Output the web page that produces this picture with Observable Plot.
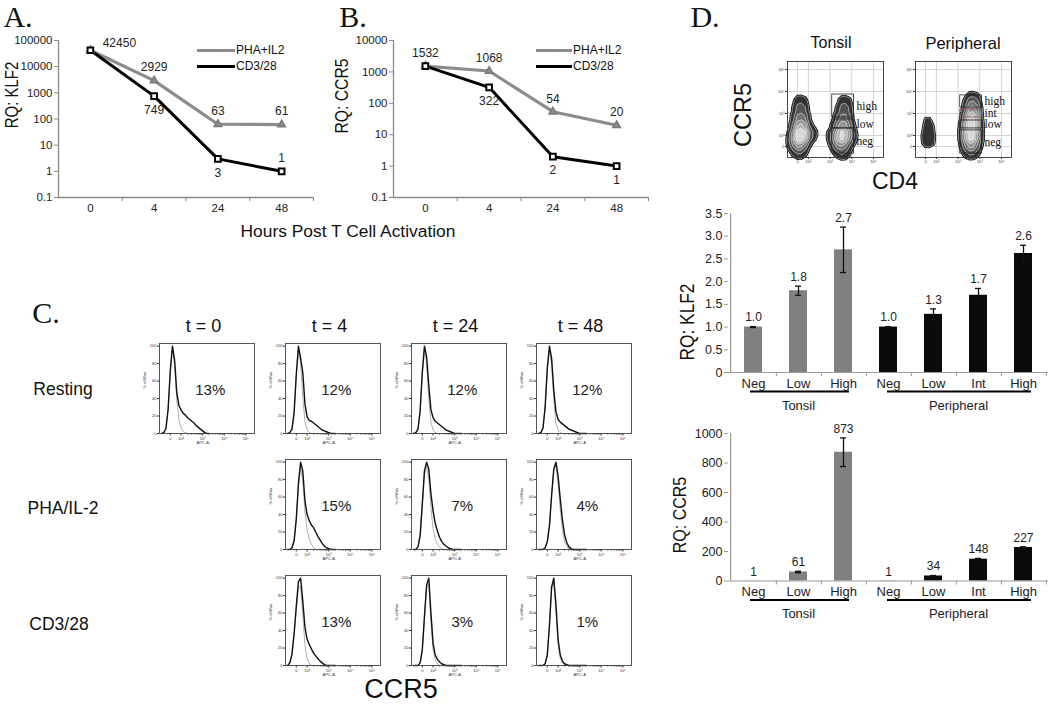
<!DOCTYPE html>
<html><head><meta charset="utf-8">
<script src="https://cdn.jsdelivr.net/npm/d3@7"></script>
<script src="https://cdn.jsdelivr.net/npm/@observablehq/plot@0.6"></script>
<style>
html,body{margin:0;padding:0;background:#fff;}
#fig{position:relative;width:1050px;height:706px;overflow:hidden;font-family:"Liberation Sans",Arial,sans-serif;color:#111;}
.pl{position:absolute;}
.pl svg{overflow:visible;background:transparent;display:block;}
.lbl{position:absolute;white-space:nowrap;line-height:1;}
.lg{position:absolute;}
</style></head><body><div id="fig"></div>
<script>
// ---------------- DATA ----------------
// Panels A & B
const hours = ["0", "4", "24", "48"];
const klf2Pha = [42450, 2929, 63, 61];
const klf2Cd3 = [42450, 749, 3, 1];
const ccr5Pha = [1532, 1068, 54, 20];
const ccr5Cd3 = [1532, 322, 2, 1];
const klf2PhaLabelAt = ["right", "above", "above", "above"];
const klf2Cd3LabelAt = ["none", "below", "below", "above"];
const ccr5PhaLabelAt = ["above", "above", "above", "above"];
const ccr5Cd3LabelAt = ["none", "below", "below", "below"];
const klf2Ticks = [0.1, 1, 10, 100, 1000, 10000, 100000];
const ccr5Ticks = [0.1, 1, 10, 100, 1000, 10000];

// Panel C (histograms, % of max per logicle bin)
const timepoints = ["t = 0", "t = 4", "t = 24", "t = 48"];
const conditions = ["Resting", "PHA/IL-2", "CD3/28"];
const histBins = [-0.4,-0.3,-0.2,-0.1,0,0.1,0.2,0.3,0.4,0.5,0.6,0.7,0.8,0.9,1.0,1.1,1.2,1.3,1.4,1.5,1.6,1.7,1.8];
const restT0Sample   = [0,1,6,28,72,100,84,47,32,27,23,21,18,16,14,12,9,7,5,3,1,0,0];
const restT0Control  = [0,1,6,27,70,97,78,38,16,6,2,1,0,0,0,0,0,0,0,0,0,0,0];
const restT4Sample   = [0,1,5,24,68,100,86,70,34,19,15,14,12,10,8,6,4,3,2,1,0,0,0];
const restT4Control  = [0,1,5,23,66,96,80,42,14,4,1,0,0,0,0,0,0,0,0,0,0,0,0];
const restT24Sample  = [0,1,5,26,70,100,88,55,27,18,14,12,10,8,6,4,3,2,1,0,0,0,0];
const restT24Control = [0,1,5,25,67,96,80,40,13,4,1,0,0,0,0,0,0,0,0,0,0,0,0];
const restT48Sample  = [0,1,6,30,75,100,86,50,25,16,13,11,9,7,5,4,3,2,1,0,0,0,0];
const restT48Control = [0,1,6,29,72,95,78,38,12,4,1,0,0,0,0,0,0,0,0,0,0,0,0];
const phaT4Sample    = [0,0,2,10,35,76,100,90,56,40,33,28,25,20,15,11,7,4,2,1,0,0,0];
const phaT4Control   = [0,0,2,10,34,72,94,78,44,22,12,6,2,0,0,0,0,0,0,0,0,0,0];
const phaT24Sample   = [0,0,3,16,52,90,100,92,64,44,30,21,14,9,6,4,2,1,0,0,0,0,0];
const phaT24Control  = [0,0,3,15,50,86,95,80,48,24,12,6,3,1,0,0,0,0,0,0,0,0,0];
const phaT48Sample   = [0,0,0,2,9,27,62,92,100,84,58,34,17,8,3,1,0,0,0,0,0,0,0];
const phaT48Control  = [0,0,0,2,9,27,62,90,96,76,46,22,9,3,1,0,0,0,0,0,0,0,0];
const cd3T4Sample    = [0,3,13,37,68,96,100,74,44,30,24,19,14,11,8,5,3,1,0,0,0,0,0];
const cd3T4Control   = [0,3,13,35,64,90,90,58,24,8,2,0,0,0,0,0,0,0,0,0,0,0,0];
const cd3T24Sample   = [0,0,0,3,18,56,92,100,60,25,12,7,4,2,1,0,0,0,0,0,0,0,0];
const cd3T24Control  = [0,0,0,3,18,55,90,93,50,18,6,2,0,0,0,0,0,0,0,0,0,0,0];
const cd3T48Sample   = [0,0,0,2,12,46,90,100,70,30,12,5,2,1,0,0,0,0,0,0,0,0,0];
const cd3T48Control  = [0,0,0,2,12,46,88,96,62,24,8,3,1,0,0,0,0,0,0,0,0,0,0];
const restPercents = ["13%", "12%", "12%", "12%"];
const phaPercents  = ["15%", "7%", "4%"];
const cd3Percents  = ["13%", "3%", "1%"];

// logicle axis ticks (display units)
const logicleTicks = [0, 0.5, 1.5, 2.5, 3.5];
const logicleLabels = ["0", "10\u00B2", "10\u00B3", "10\u2074", "10\u2075"];

// Panel D contour populations: [x, y, weight] in logicle display units
const tonsilNeg = [[0.08,-0.3,2],[0.08,0.1,4],[0.1,0.5,6],[0.12,0.9,4],[0.15,1.3,3],[0.15,1.7,2],[0.12,2.0,1.2],[0.1,2.25,0.6],[0.5,0.55,1.6],[0.8,0.6,1.1],[1.1,0.65,0.5],[-0.22,0.3,1.2]];
const tonsilPos = [[2.1,-0.3,2.5],[1.9,0.1,3],[2.1,0.45,6],[1.75,0.5,1.8],[2.45,0.45,1.8],[2.1,0.9,4],[2.1,1.3,3],[2.15,1.7,2],[2.15,2.0,1.2],[2.15,2.25,0.5]];
const periNeg = [[0.1,0.0,0.8],[0.1,0.4,1.4],[0.1,0.8,1.1],[0.1,1.2,0.8],[0.1,1.55,0.4]];
const periPos = [[2.1,-0.3,2],[2.1,0.1,4],[2.1,0.5,6],[2.1,0.9,5],[2.12,1.3,4.5],[2.15,1.7,3.5],[2.15,2.05,1.8],[2.15,2.3,0.7]];
const tonsilGateNames = ["high", "low", "neg"];
const tonsilGateY1 = [1.32, 0.82, -0.32];
const tonsilGateY2 = [2.36, 1.23, 0.82];
const periGateNames = ["high", "int", "low", "neg"];
const periGateY1 = [1.77, 1.32, 0.82, -0.32];
const periGateY2 = [2.32, 1.68, 1.18, 0.73];
const gateX1 = 1.6, gateX2 = 2.6;

// Panel D bar charts
const barGroups = ["Tonsil","Tonsil","Tonsil","Peripheral","Peripheral","Peripheral","Peripheral"];
const barSubsets = ["Neg","Low","High","Neg","Low","Int","High"];
const klf2Values = [1.0, 1.8, 2.7, 1.0, 1.28, 1.7, 2.62];
const klf2Errors = [0.01, 0.1, 0.5, 0.01, 0.12, 0.15, 0.18];
const klf2Labels = ["1.0", "1.8", "2.7", "1.0", "1.3", "1.7", "2.6"];
const ccr5Values = [1, 61, 873, 1, 34, 148, 227];
const ccr5Errors = [0, 5, 97, 0, 3, 5, 5];
const ccr5Labels = ["1", "61", "873", "1", "34", "148", "227"];

// ---------------- HELPERS ----------------
const fig = document.getElementById("fig");
const SANS = '"Liberation Sans", Arial, sans-serif';
const SERIF = '"Liberation Serif", "Times New Roman", serif';
function place(svg, left, top) {
  const d = document.createElement("div");
  d.className = "pl"; d.style.left = left + "px"; d.style.top = top + "px";
  d.appendChild(svg); fig.appendChild(d);
}
function label(text, cx, cy, size, opts = {}) {
  const d = document.createElement("div");
  d.className = "lbl"; d.textContent = text;
  d.style.fontSize = size + "px";
  d.style.fontFamily = opts.serif ? SERIF : SANS;
  d.style.left = cx + "px"; d.style.top = cy + "px";
  let t = "translate(-50%,-50%)";
  if (opts.rotate) t += ` rotate(${opts.rotate}deg)`;
  if (opts.sy) t += ` scaleY(${opts.sy})`;
  d.style.transform = t;
  fig.appendChild(d);
}
function legendItem(x1, x2, y, color, text) {
  const l = document.createElement("div");
  l.className = "lg"; l.style.left = x1 + "px"; l.style.top = (y - 1.5) + "px";
  l.style.width = (x2 - x1) + "px"; l.style.height = "3px"; l.style.background = color;
  fig.appendChild(l);
  const t = document.createElement("div");
  t.className = "lbl"; t.textContent = text; t.style.fontSize = "12px";
  t.style.left = (x2 + 1) + "px"; t.style.top = (y - 6) + "px";
  fig.appendChild(t);
}
const baseStyle = {fontFamily: SANS, fontSize: "11.5px", color: "#222", background: "transparent", overflow: "visible"};

// ---------------- PANELS A & B ----------------
function lineChart(pha, cd3, phaAt, cd3At, yDomain, yTicks) {
  const mk = (vals, at, s) => vals.map((v, i) => ({s, i, v, at: at[i]}));
  const p = mk(pha, phaAt, "PHA+IL2"), c = mk(cd3, cd3At, "CD3/28");
  const all = p.concat(c);
  const X = d => d.i + 0.5;
  return Plot.plot({
    width: 330, height: 222, marginLeft: 58, marginRight: 17, marginTop: 40, marginBottom: 25,
    style: baseStyle,
    x: {type: "linear", domain: [0, hours.length]},
    y: {type: "log", domain: yDomain},
    marks: [
      Plot.axisY({ticks: yTicks, tickFormat: d => String(d), tickSize: 4, tickPadding: 2, stroke: "#8a8a8a", label: null, fontSize: 11.5}),
      Plot.axisX({ticks: d3.range(1, hours.length + 1), tickFormat: () => "", tickSize: 4, stroke: "#8a8a8a", label: null}),
      Plot.axisX({ticks: hours.map((h, i) => i + 0.5), tickFormat: t => hours[Math.floor(t)], tickSize: 0, tickPadding: 6, label: null, fontSize: 11.5}),
      Plot.ruleX([0], {stroke: "#8a8a8a", strokeWidth: 1.3}),
      Plot.ruleY([yDomain[0]], {stroke: "#8a8a8a", strokeWidth: 1.3}),
      Plot.line(p, {x: X, y: "v", stroke: "#8c8c8c", strokeWidth: 3.2}),
      Plot.line(c, {x: X, y: "v", stroke: "#000", strokeWidth: 3}),
      Plot.dot(p, {x: X, y: "v", symbol: "triangle", r: 2.8, fill: "#8c8c8c", stroke: "#7a7a7a"}),
      Plot.dot(c, {x: X, y: "v", symbol: "square", r: 3.2, fill: "#fff", stroke: "#000", strokeWidth: 2}),
      Plot.text(all.filter(d => d.at === "above"), {x: X, y: "v", text: d => String(d.v), dy: -13, fontSize: 12, fill: "#222"}),
      Plot.text(all.filter(d => d.at === "below"), {x: X, y: "v", text: d => String(d.v), dy: 14, fontSize: 12, fill: "#222"}),
      Plot.text(all.filter(d => d.at === "right"), {x: X, y: "v", text: d => String(d.v), dx: 29, dy: -7, fontSize: 12, fill: "#222"})
    ]
  });
}
place(lineChart(klf2Pha, klf2Cd3, klf2PhaLabelAt, klf2Cd3LabelAt, [0.1, 100000], klf2Ticks), 0, 0);
place(lineChart(ccr5Pha, ccr5Cd3, ccr5PhaLabelAt, ccr5Cd3LabelAt, [0.1, 10000], ccr5Ticks), 335, 0);
legendItem(197, 235, 50, "#8c8c8c", "PHA+IL2");
legendItem(197, 235, 66, "#000", "CD3/28");
legendItem(536, 572, 50, "#8c8c8c", "PHA+IL2");
legendItem(536, 572, 66, "#000", "CD3/28");
label("A.", 18, 17, 30, {serif: true});
label("B.", 353, 17, 30, {serif: true});
label("RQ: KLF2", 11, 95, 15, {rotate: -90, sy: 1.25});
label("RQ: CCR5", 342, 96, 15.7, {rotate: -90, sy: 1.15});
label("Hours Post T Cell Activation", 348, 232, 17.4);

// ---------------- PANEL C ----------------
const minorTicks = [];
[0.5, 1.5, 2.5].forEach(s => { for (let m = 2; m < 10; m++) minorTicks.push(s + Math.log10(m)); });
const logicleFmt = new Map(logicleTicks.map((t, i) => [t, logicleLabels[i]]));
function histPlot(sample, control, pct) {
  const s = histBins.map((x, i) => ({x, y: sample[i]}));
  const c = histBins.map((x, i) => ({x, y: control[i]}));
  return Plot.plot({
    width: 121, height: 112, marginLeft: 22, marginRight: 4, marginTop: 4, marginBottom: 18,
    style: {...baseStyle, fontSize: "4px"},
    x: {domain: [-0.5, 3.9]},
    y: {domain: [0, 103]},
    marks: [
      Plot.axisY({ticks: [0, 20, 40, 60, 80, 100], tickSize: 2, tickPadding: 1, fontSize: 4, label: null, stroke: "#333", fill: "#333"}),
      Plot.axisX({ticks: logicleTicks, tickFormat: d => logicleFmt.get(d), tickSize: 2.5, tickPadding: 1, fontSize: 4, label: null, stroke: "#333", fill: "#333"}),
      Plot.axisX({ticks: minorTicks, tickFormat: () => "", tickSize: 1.5, label: null, stroke: "#333"}),
      Plot.text(["% of Max"], {frameAnchor: "left", dx: -15, rotate: -90, fontSize: 4, fill: "#333"}),
      Plot.text(["APC-A"], {x: 1.5, frameAnchor: "bottom", dy: 10, fontSize: 4, fill: "#333"}),
      Plot.line(c, {x: "x", y: "y", stroke: "#9a9a9a", strokeWidth: 0.8}),
      Plot.line(s, {x: "x", y: "y", stroke: "#111", strokeWidth: 1.4}),
      Plot.frame({stroke: "#444", strokeWidth: 0.9}),
      Plot.text([pct], {x: 1.85, y: 50, text: d => d, fontSize: 15, fill: "#222"})
    ]
  });
}
const colLeft = [159, 285, 411, 536];
const rowTop = [343, 459, 575];
const restSamples = [restT0Sample, restT4Sample, restT24Sample, restT48Sample];
const restControls = [restT0Control, restT4Control, restT24Control, restT48Control];
const phaSamples = [phaT4Sample, phaT24Sample, phaT48Sample];
const phaControls = [phaT4Control, phaT24Control, phaT48Control];
const cd3Samples = [cd3T4Sample, cd3T24Sample, cd3T48Sample];
const cd3Controls = [cd3T4Control, cd3T24Control, cd3T48Control];
restSamples.forEach((s, j) => place(histPlot(s, restControls[j], restPercents[j]), colLeft[j] - 22, rowTop[0] - 4));
phaSamples.forEach((s, j) => place(histPlot(s, phaControls[j], phaPercents[j]), colLeft[j + 1] - 22, rowTop[1] - 4));
cd3Samples.forEach((s, j) => place(histPlot(s, cd3Controls[j], cd3Percents[j]), colLeft[j + 1] - 22, rowTop[2] - 4));
timepoints.forEach((t, j) => label(t, colLeft[j] + 44.5, 326, 18));
label(conditions[0], 63, 390, 17.5);
label(conditions[1], 63, 509, 17.5);
label(conditions[2], 59, 625, 17.5);
label("C.", 46, 313, 30, {serif: true});
label("CCR5", 401, 689, 27);

// ---------------- PANEL D contour plots ----------------
function contourPlot(pops, names, y1s, y2s) {
  const pts = pops.flat().map(([x, y, w]) => ({x, y, w}));
  const gates = names.map((n, i) => ({name: n, x1: gateX1, x2: gateX2, y1: y1s[i], y2: y2s[i]}));
  const dens = {x: "x", y: "y", weight: "w", bandwidth: 4.5, thresholds: 7};
  return Plot.plot({
    width: 120, height: 116, marginLeft: 20, marginRight: 4, marginTop: 4, marginBottom: 16,
    style: {...baseStyle, fontSize: "4px"},
    x: {domain: [-0.46, 3.96]},
    y: {domain: [-0.5, 3.86]},
    color: {type: "linear", range: ["#111111", "#d8d8d8"]},
    marks: [
      Plot.gridX(logicleTicks, {stroke: "#d4d4d4", strokeOpacity: 1}),
      Plot.gridY(logicleTicks, {stroke: "#d4d4d4", strokeOpacity: 1}),
      Plot.density(pts, {...dens, fill: "#000", stroke: "#000", strokeWidth: 2.4}),
      Plot.density(pts, {...dens, fill: "density", stroke: "#fff", strokeWidth: 0.5}),
      Plot.rect(gates, {x1: "x1", x2: "x2", y1: "y1", y2: "y2", fill: "none", stroke: d => d.name === "int" ? "#8a4b4b" : "#222", strokeWidth: 0.8}),
      Plot.text(gates, {x: "x2", y: d => (d.y1 + d.y2) / 2, text: "name", dx: 2.5, textAnchor: "start", fontFamily: SERIF, fontSize: 11.5, fill: "#111"}),
      Plot.frame({stroke: "#333", strokeWidth: 0.9}),
      Plot.axisY({ticks: logicleTicks, tickFormat: d => logicleFmt.get(d), tickSize: 2, tickPadding: 1, fontSize: 4, label: null, stroke: "#333", fill: "#333"}),
      Plot.axisX({ticks: logicleTicks, tickFormat: d => logicleFmt.get(d), tickSize: 2, tickPadding: 1, fontSize: 4, label: null, stroke: "#333", fill: "#333"})
    ]
  });
}
place(contourPlot([tonsilNeg, tonsilPos], tonsilGateNames, tonsilGateY1, tonsilGateY2), 767, 57);
place(contourPlot([periNeg, periPos], periGateNames, periGateY1, periGateY2), 895, 57);
label("D.", 705, 17, 30, {serif: true});
label("Tonsil", 831, 43, 16);
label("Peripheral", 963, 43, 16.5);
label("CCR5", 744, 115, 23.5, {rotate: -90});
label("CD4", 895, 181, 23);

// ---------------- PANEL D bar charts ----------------
function barChart(values, errors, labels, yDomain, yTicks, fmt, frameH) {
  const rows = barSubsets.map((s, i) => ({key: barGroups[i] + "-" + s, sub: s, group: barGroups[i], v: values[i], e: errors[i], lab: labels[i]}));
  const keys = rows.map(d => d.key);
  const W = 320, half = W / keys.length / 2;
  return Plot.plot({
    width: 40 + W + 2, height: 20 + frameH + 45, marginLeft: 40, marginRight: 2, marginTop: 20, marginBottom: 45,
    style: {...baseStyle, fontSize: "12.5px"},
    x: {type: "band", domain: keys, paddingInner: 0.6, paddingOuter: 0.3},
    y: {domain: yDomain},
    marks: [
      Plot.barY(rows, {x: "key", y: "v", fill: d => d.group === "Tonsil" ? "#808080" : "#0a0a0a"}),
      Plot.ruleX(rows, {x: "key", y1: d => d.v - d.e, y2: d => d.v + d.e, stroke: "#111", strokeWidth: 1.3}),
      Plot.tickY(rows.filter(d => d.e > 0), {x: "key", y: d => d.v + d.e, insetLeft: 6, insetRight: 6, stroke: "#111", strokeWidth: 1.3}),
      Plot.tickY(rows.filter(d => d.e > 0), {x: "key", y: d => d.v - d.e, insetLeft: 6, insetRight: 6, stroke: "#111", strokeWidth: 1.3}),
      Plot.text(rows, {x: "key", y: d => d.v + d.e, text: "lab", dy: -9, fontSize: 12, fill: "#222"}),
      Plot.ruleY([0], {stroke: "#999", strokeWidth: 1.2}),
      Plot.ruleX([keys[0]], {x: d => d, dx: -half, stroke: "#999", strokeWidth: 1.2}),
      Plot.axisY({ticks: yTicks, tickFormat: fmt, tickSize: 4, tickPadding: 2, label: null, stroke: "#999", fontSize: 12.5}),
      Plot.axisX({ticks: keys, tickFormat: () => "", tickSize: 4, dx: half, label: null, stroke: "#999"}),
      Plot.axisX({ticks: keys, tickFormat: k => k.split("-")[1], tickSize: 0, tickPadding: 6, label: null, fontSize: 13}),
      Plot.ruleY([0], {x1: () => keys[0], x2: () => keys[2], dy: 19, insetLeft: 6, insetRight: 3, stroke: "#000", strokeWidth: 2}),
      Plot.ruleY([0], {x1: () => keys[3], x2: () => keys[6], dy: 19, insetLeft: 8, insetRight: 1, stroke: "#000", strokeWidth: 2}),
      Plot.text(["Tonsil"], {x: () => keys[1], y: () => 0, text: d => d, dy: 33, fontSize: 13, fill: "#222"}),
      Plot.text(["Peripheral"], {x: () => keys[4], y: () => 0, text: d => d, dx: 25, dy: 33, fontSize: 13, fill: "#222"})
    ]
  });
}
place(barChart(klf2Values, klf2Errors, klf2Labels, [0, 3.5], [0, 0.5, 1, 1.5, 2, 2.5, 3, 3.5], d => d === 0 ? "0" : d.toFixed(1), 159), 688, 193);
place(barChart(ccr5Values, ccr5Errors, ccr5Labels, [0, 1000], [0, 200, 400, 600, 800, 1000], d => String(d), 147.5), 688, 413);
label("RQ: KLF2", 688, 322, 17.3, {rotate: -90, sy: 1.15});
label("RQ: CCR5", 680, 515, 16, {rotate: -90, sy: 1.15});
</script></body></html>
